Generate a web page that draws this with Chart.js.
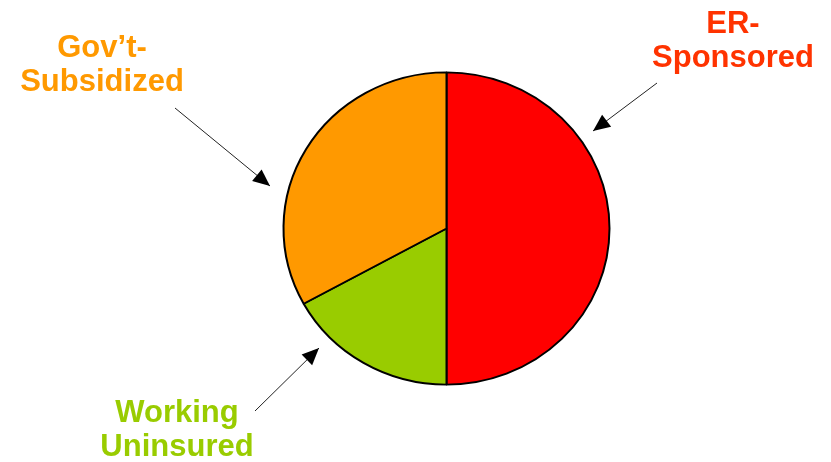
<!DOCTYPE html>
<html>
<head>
<meta charset="utf-8">
<script src="https://cdn.jsdelivr.net/npm/chart.js@4/dist/chart.umd.min.js"></script>
<style>
  html, body { margin: 0; padding: 0; background: #fff; }
  #wrap { width: 831px; height: 462px; }
</style>
</head>
<body>
<div id="wrap"><canvas id="pieChart"></canvas></div>
<script>
  // 데이터 (위쪽에서 시계 방향)
  const categories = ['ER-Sponsored', 'Working Uninsured', "Gov't-Subsidized"];
  const shares = [50, 17, 33];
  const sliceColors = ['#FF0000', '#99CC00', '#FF9900'];
  const labelLines = [['ER-', 'Sponsored'], ['Working', 'Uninsured'], ['Gov\u2019t-', 'Subsidized']];
  const labelColors = ['#FF3300', '#99CC00', '#FF9900'];

  // 원이 살짝 세로로 눌려 있음 (원본 슬라이드)
  const squashPlugin = {
    id: 'squash',
    beforeDatasetsDraw(chart, args, opts) {
      const { left, right, top, bottom } = chart.chartArea;
      const cx = (left + right) / 2, cy = (top + bottom) / 2;
      chart.ctx.save();
      chart.ctx.translate(cx, cy);
      chart.ctx.scale(1, opts.ratio);
      chart.ctx.translate(-cx, -cy);
    },
    afterDatasetsDraw(chart) {
      chart.ctx.restore();
    },
  };

  // 라벨 + 화살표 그리기
  const calloutPlugin = {
    id: 'callouts',
    afterDraw(chart, args, opts) {
      const ctx = chart.ctx;
      ctx.save();
      opts.items.forEach((it, i) => {
        // 화살표 선
        ctx.strokeStyle = '#222';
        ctx.lineWidth = 1;
        ctx.beginPath();
        ctx.moveTo(it.from[0], it.from[1]);
        ctx.lineTo(it.to[0], it.to[1]);
        ctx.stroke();
        // 화살촉
        const ang = Math.atan2(it.to[1] - it.from[1], it.to[0] - it.from[0]);
        const len = 17, half = 7.5;
        ctx.fillStyle = '#000';
        ctx.beginPath();
        ctx.moveTo(it.to[0], it.to[1]);
        ctx.lineTo(it.to[0] - len * Math.cos(ang) + half * Math.sin(ang),
                   it.to[1] - len * Math.sin(ang) - half * Math.cos(ang));
        ctx.lineTo(it.to[0] - len * Math.cos(ang) - half * Math.sin(ang),
                   it.to[1] - len * Math.sin(ang) + half * Math.cos(ang));
        ctx.closePath();
        ctx.fill();
        // 텍스트
        ctx.font = 'bold 31px "Liberation Sans", Arial, sans-serif';
        ctx.textAlign = 'center';
        ctx.textBaseline = 'alphabetic';
        ctx.fillStyle = labelColors[i];
        labelLines[i].forEach((line, j) => {
          ctx.fillText(line, it.x, it.y + j * 34);
        });
      });
      ctx.restore();
    },
  };

  new Chart(document.getElementById('pieChart'), {
    type: 'pie',
    data: {
      labels: categories,
      datasets: [
        {
          data: shares,
          backgroundColor: sliceColors,
          borderColor: '#000',
          borderWidth: 2,
        },
      ],
    },
    options: {
      responsive: true,
      maintainAspectRatio: false,
      animation: false,
      radius: 163,
      layout: {
        padding: { left: 283, right: 221, top: 65, bottom: 70 },
      },
      plugins: {
        legend: { display: false },
        tooltip: { enabled: false },
        squash: { ratio: 0.958 },
        callouts: {
          items: [
            { x: 733, y: 33, from: [657, 83], to: [593, 131] },
            { x: 177, y: 422, from: [255, 411], to: [319, 348] },
            { x: 102, y: 57, from: [175, 108], to: [270, 186] },
          ],
        },
      },
    },
    plugins: [squashPlugin, calloutPlugin],
  });
</script>
</body>
</html>
